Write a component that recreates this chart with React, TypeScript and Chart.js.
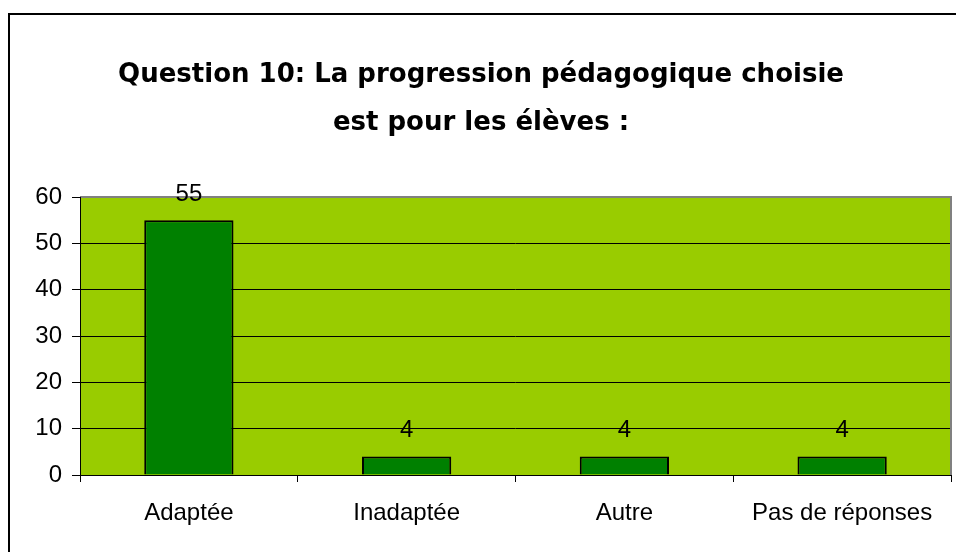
import React, { useEffect, useRef } from "react";
import { Chart, registerables } from "chart.js";

Chart.register(...registerables);

const categories = ["Adaptée", "Inadaptée", "Autre", "Pas de réponses"];
const values = [55, 4, 4, 4];
const titleLines = ["Question 10: La progression pédagogique choisie", "est pour les élèves :"];
const yTicks = [0, 10, 20, 30, 40, 50, 60];

const W = 956;
const H = 552;
const FONT = "'Liberation Sans', Arial, sans-serif";

const framePlugin = {
  id: "frame",
  beforeDraw(chart: any) {
    const { ctx, chartArea } = chart;
    ctx.save();
    ctx.fillStyle = "#ffffff";
    ctx.fillRect(0, 0, W, H);
    ctx.strokeStyle = "#000000";
    ctx.lineWidth = 2;
    ctx.strokeRect(9, 14, W + 20, H + 20);
    ctx.fillStyle = "#99CC00";
    ctx.fillRect(chartArea.left, chartArea.top, chartArea.right - chartArea.left, chartArea.bottom - chartArea.top);
    ctx.fillStyle = "#000000";
    ctx.font = "bold 26px 'DejaVu Sans', Verdana, sans-serif";
    ctx.textAlign = "center";
    ctx.textBaseline = "middle";
    ctx.fillText(titleLines[0], 481, 75);
    ctx.fillText(titleLines[1], 481, 123);
    ctx.restore();
  },
  afterDraw(chart: any) {
    const { ctx, chartArea } = chart;
    ctx.save();
    ctx.strokeStyle = "#808080";
    ctx.lineWidth = 2;
    ctx.beginPath();
    ctx.moveTo(chartArea.left, chartArea.top);
    ctx.lineTo(chartArea.right, chartArea.top);
    ctx.lineTo(chartArea.right, chartArea.bottom);
    ctx.stroke();
    ctx.strokeStyle = "#000000";
    ctx.lineWidth = 1;
    ctx.beginPath();
    ctx.moveTo(chartArea.left + 0.5, chartArea.top);
    ctx.lineTo(chartArea.left + 0.5, chartArea.bottom);
    ctx.moveTo(chartArea.left, chartArea.bottom + 0.5);
    ctx.lineTo(chartArea.right, chartArea.bottom + 0.5);
    ctx.stroke();
    // value labels
    const meta = chart.getDatasetMeta(0);
    ctx.fillStyle = "#000000";
    ctx.font = "24px " + FONT;
    ctx.textAlign = "center";
    ctx.textBaseline = "alphabetic";
    meta.data.forEach((bar: any, i: number) => {
      ctx.fillText(String(values[i]), bar.x, bar.y - 19);
    });
    ctx.restore();
  },
};

export default function App() {
  const ref = useRef<HTMLCanvasElement>(null);
  useEffect(() => {
    if (!ref.current) return;
    const chart = new Chart(ref.current, {
      type: "bar",
      data: {
        labels: categories,
        datasets: [
          {
            data: values,
            backgroundColor: "#008000",
            borderColor: "#000000",
            borderWidth: 2,
            barPercentage: 0.41,
            categoryPercentage: 1,
          },
        ],
      },
      options: {
        responsive: false,
        animation: false,
        devicePixelRatio: 1,
        layout: { padding: { top: 197, right: 5, left: 0, bottom: 0 } },
        plugins: { legend: { display: false }, tooltip: { enabled: false }, title: { display: false } },
        scales: {
          x: {
            afterFit: (s: any) => {
              s.height = 77;
            },
            grid: {
              offset: true,
              drawOnChartArea: false,
              drawTicks: true,
              tickLength: 7,
              color: "#000000",
            },
            border: { display: false },
            ticks: {
              color: "#000000",
              padding: 17,
              font: { size: 24, family: FONT },
              maxRotation: 0,
              autoSkip: false,
            },
          },
          y: {
            min: 0,
            max: 60,
            afterFit: (s: any) => {
              s.width = 80;
            },
            afterBuildTicks: (s: any) => {
              s.ticks = yTicks.map((v) => ({ value: v }));
            },
            grid: {
              color: "#000000",
              tickLength: 8,
              drawTicks: true,
            },
            border: { display: false },
            ticks: {
              color: "#000000",
              padding: 10,
              font: { size: 24, family: FONT },
            },
          },
        },
      },
      plugins: [framePlugin],
    });
    return () => chart.destroy();
  }, []);
  return (
    <div style={{ position: "absolute", left: 0, top: 0, width: W, height: H }}>
      <canvas ref={ref} width={W} height={H} style={{ width: W, height: H, display: "block" }} />
    </div>
  );
}
